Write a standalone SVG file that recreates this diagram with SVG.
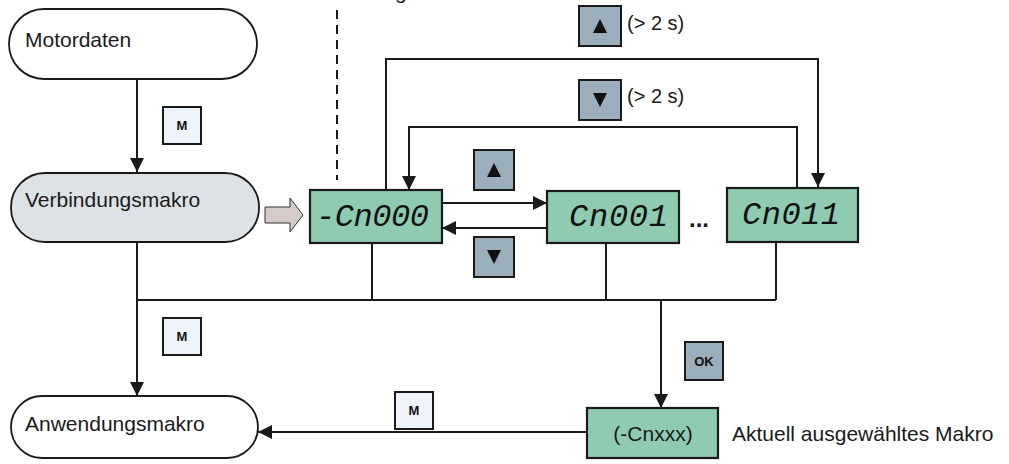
<svg xmlns="http://www.w3.org/2000/svg" width="1009" height="464" viewBox="0 0 1009 464">
<defs>
<style>
.ln{fill:none;stroke:#1a1a1a;stroke-width:2}
.term{stroke:#1a1a1a;stroke-width:1.8}
.lbl{font-family:"Liberation Sans",Arial,sans-serif;font-size:21px;fill:#1a1a1a}
.sm{font-family:"Liberation Sans",Arial,sans-serif;font-size:20px;fill:#1a1a1a}
.lcd{fill:#8ecbb0;stroke:#1a1a1a;stroke-width:2.2}
.seg{font-family:"Liberation Mono","DejaVu Sans Mono",monospace;font-style:italic;font-size:32px;fill:#111}
.kb{fill:#9aaebb;stroke:#1a1a1a;stroke-width:2}
.km{fill:#eef4f9;stroke:#1a1a1a;stroke-width:2}
.kt{font-family:"Liberation Sans",Arial,sans-serif;font-size:13px;font-weight:bold;fill:#111;text-anchor:middle}
</style>
<marker id="ah" viewBox="0 0 14 14" refX="14" refY="7" markerWidth="14" markerHeight="14" markerUnits="userSpaceOnUse" orient="auto">
<path d="M0,0 L14,7 L0,14 Z" fill="#1a1a1a"/>
</marker>
</defs>
<rect width="1009" height="464" fill="#fff"/>
<text class="lbl" x="395" y="-1">g</text>

<g id="connectors">
<line class="ln" x1="337" y1="10" x2="337" y2="180" stroke-dasharray="9 6" stroke-width="2.2"/>
<path class="ln" d="M137,79 V172" marker-end="url(#ah)"/>
<path class="ln" d="M137,242 V396" marker-end="url(#ah)"/>
<path class="ln" d="M137,300 H776"/>
<path class="ln" d="M372,243 V300"/>
<path class="ln" d="M606,243 V300"/>
<path class="ln" d="M776,242 V300"/>
<path class="ln" d="M661,300 V408" marker-end="url(#ah)"/>
<path class="ln" d="M587,432 H258" marker-end="url(#ah)"/>
<path class="ln" d="M442,203 H547" marker-end="url(#ah)"/>
<path class="ln" d="M547,228 H442" marker-end="url(#ah)"/>
<path class="ln" d="M386,190 V59 H818 V187" marker-end="url(#ah)"/>
<path class="ln" d="M797,188 V127 H409 V190" marker-end="url(#ah)"/>
<polygon points="265,207 290,207 290,198 303,215 290,232 290,223 265,223" fill="#d5cbcb" stroke="#333" stroke-width="1"/>
</g>

<g id="motordaten">
<rect class="term" x="9" y="9" width="248" height="70" rx="35" fill="#fff"/>
<text class="lbl" x="25" y="47">Motordaten</text>
</g>
<g id="verbindungsmakro">
<rect class="term" x="11" y="173" width="248" height="69" rx="34" fill="#dde2e7"/>
<text class="lbl" x="25" y="207">Verbindungsmakro</text>
</g>
<g id="anwendungsmakro">
<rect class="term" x="11" y="396" width="247" height="62" rx="31" fill="#fff"/>
<text class="lbl" x="25" y="431">Anwendungsmakro</text>
</g>

<g id="cn000">
<rect class="lcd" x="310" y="190" width="132" height="53"/>
<text class="seg" x="316" y="226" textLength="113" lengthAdjust="spacing">-Cn000</text>
</g>
<g id="cn001">
<rect class="lcd" x="547" y="191" width="132" height="52"/>
<text class="seg" x="569" y="226" textLength="99" lengthAdjust="spacing">Cn001</text>
</g>
<text x="689" y="227" font-family="Liberation Sans,Arial,sans-serif" font-size="24" font-weight="bold" fill="#1a1a1a">...</text>
<g id="cn011">
<rect class="lcd" x="727" y="188" width="131" height="54"/>
<text class="seg" x="742" y="224" textLength="98" lengthAdjust="spacing">Cn011</text>
</g>
<g id="cnxxx">
<rect class="lcd" x="587" y="408" width="131" height="50"/>
<text class="lbl" x="653" y="441" text-anchor="middle">(-Cnxxx)</text>
</g>
<text class="lbl" x="732" y="441">Aktuell ausgewähltes Makro</text>

<g id="key-up-top">
<rect class="kb" x="579" y="6" width="42" height="40"/>
<path d="M593,33 L600,19 L607,33 Z" fill="#111"/>
<text class="sm" x="627" y="30">(&gt; 2 s)</text>
</g>
<g id="key-down-top">
<rect class="kb" x="579" y="80" width="42" height="40"/>
<path d="M593,93 L600,107 L607,93 Z" fill="#111"/>
<text class="sm" x="627" y="103">(&gt; 2 s)</text>
</g>
<g id="key-up">
<rect class="kb" x="474" y="150" width="40" height="40"/>
<path d="M487,177 L494,163 L501,177 Z" fill="#111"/>
</g>
<g id="key-down">
<rect class="kb" x="474" y="237" width="40" height="40"/>
<path d="M487,250 L494,264 L501,250 Z" fill="#111"/>
</g>
<g id="key-m1">
<rect class="km" x="163" y="107" width="38" height="37"/>
<text class="kt" x="182" y="130">M</text>
</g>
<g id="key-m2">
<rect class="km" x="163" y="318" width="38" height="37"/>
<text class="kt" x="182" y="341">M</text>
</g>
<g id="key-m3">
<rect class="km" x="395" y="392" width="38" height="37"/>
<text class="kt" x="414" y="415">M</text>
</g>
<g id="key-ok">
<rect class="kb" x="685" y="342" width="38" height="38"/>
<text class="kt" x="704" y="366">OK</text>
</g>
</svg>
